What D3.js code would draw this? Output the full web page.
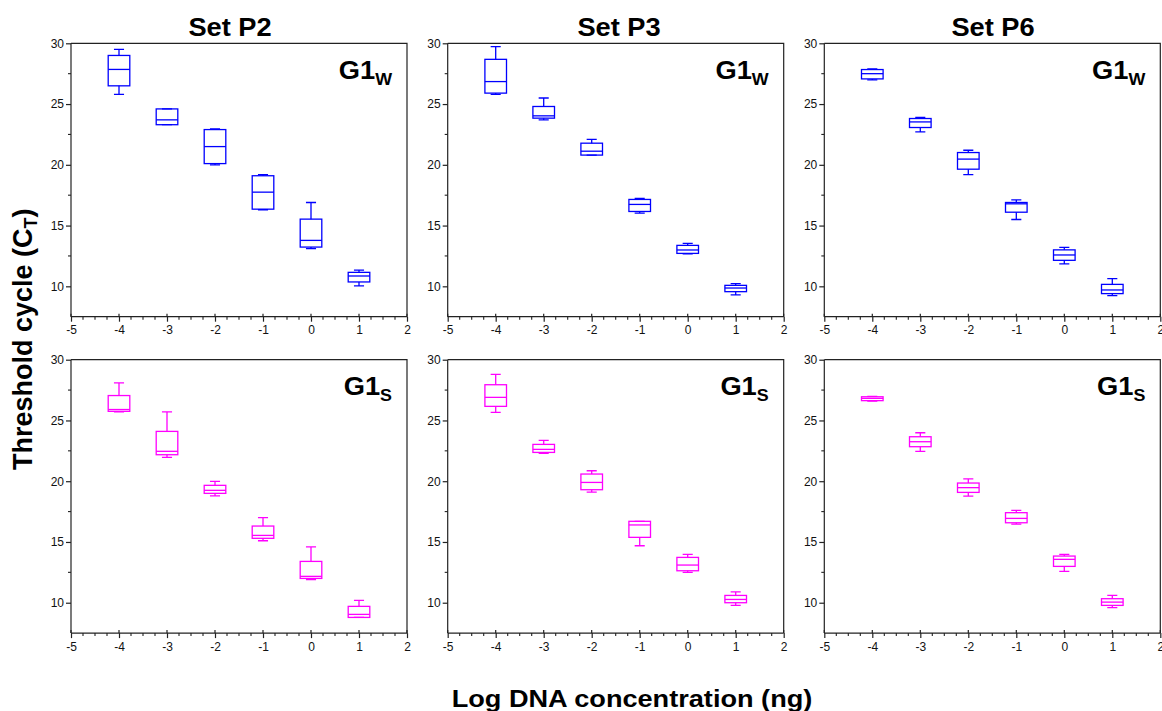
<!DOCTYPE html>
<html>
<head>
<meta charset="utf-8">
<script src="https://cdn.jsdelivr.net/npm/d3@7/dist/d3.min.js"></script>
<style>
  body { margin: 0; background: #fff; }
  svg { display: block; font-family: "Liberation Sans", Arial, sans-serif; }
</style>
</head>
<body>
<svg id="chart" width="1162" height="711"></svg>
<script>
// Log10 DNA amount (ng) for each dilution step
const doses = [-4, -3, -2, -1, 0, 1];

// Ct summaries per dilution: [min, Q1, median, Q3, max]
const p2W = [[25.8, 26.5, 27.85, 29.0, 29.5], [23.3, 23.3, 23.7, 24.6, 24.6], [20.0, 20.1, 21.5, 22.9, 22.95],
             [16.3, 16.35, 17.75, 19.1, 19.2], [13.1, 13.23, 13.78, 15.53, 16.9], [10.03, 10.36, 10.85, 11.15, 11.34]];
const p3W = [[25.8, 25.9, 26.85, 28.68, 29.73], [23.7, 23.84, 24.03, 24.8, 25.5], [20.8, 20.8, 21.12, 21.78, 22.1],
             [16.03, 16.16, 16.74, 17.15, 17.23], [12.68, 12.71, 12.99, 13.37, 13.53], [9.29, 9.56, 9.86, 10.08, 10.22]];
const p6W = [[26.99, 27.07, 27.5, 27.84, 27.9], [22.71, 23.07, 23.53, 23.81, 23.9], [19.2, 19.64, 20.47, 21.01, 21.2],
             [15.5, 16.1, 16.79, 16.9, 17.12], [11.84, 12.14, 12.58, 13.0, 13.2], [9.23, 9.4, 9.7, 10.16, 10.63]];
const p2S = [[25.7, 25.75, 25.9, 27.05, 28.1], [21.96, 22.18, 22.46, 24.1, 25.7], [18.8, 19.0, 19.25, 19.66, 19.99],
             [15.1, 15.3, 15.54, 16.31, 17.0], [11.9, 12.0, 12.17, 13.4, 14.6], [8.79, 8.79, 9.04, 9.7, 10.19]];
const p3S = [[25.67, 26.16, 26.9, 27.94, 28.8], [22.3, 22.37, 22.62, 23.03, 23.36], [19.1, 19.3, 19.9, 20.59, 20.86],
             [14.69, 15.38, 16.4, 16.7, 16.7], [12.5, 12.63, 13.1, 13.73, 13.98], [9.78, 10.0, 10.27, 10.6, 10.9]];
const p6S = [[26.6, 26.63, 26.82, 26.95, 26.98], [22.46, 22.84, 23.25, 23.66, 23.99], [18.78, 19.08, 19.47, 19.85, 20.2],
             [16.47, 16.58, 16.94, 17.41, 17.6], [12.58, 12.99, 13.57, 13.84, 13.98], [9.59, 9.78, 10.05, 10.33, 10.6]];

const setTitles = ["Set P2", "Set P3", "Set P6"];
const targetNames = ["W", "S"];
const xTicks = [-5, -4, -3, -2, -1, 0, 1, 2];
const yTicks = [10, 15, 20, 25, 30];

const panels = [
  { col: 0, row: 0, data: p2W }, { col: 1, row: 0, data: p3W }, { col: 2, row: 0, data: p6W },
  { col: 0, row: 1, data: p2S }, { col: 1, row: 1, data: p3S }, { col: 2, row: 1, data: p6S }
];

const svg = d3.select("#chart");
const colLeft = [71, 447.7, 824.3];
const panelW = 336;
const rowTop = [43.3, 359.7];
const panelH = 273.4;
const colors = ["#0000ff", "#ff00ff"];
const axisColor = "#222";
const titleX = [230, 619, 993];

const x = d3.scaleLinear().domain([-5, 2]);
const y = d3.scaleLinear().domain([7.5, 30]);

panels.forEach(p => {
  const left = colLeft[p.col], top = rowTop[p.row];
  const xs = x.copy().range([left, left + panelW]);
  const ys = y.copy().range([top + panelH, top]);
  const g = svg.append("g");
  const color = colors[p.row];
  const bottom = top + panelH;

  // frame: top and right edges
  g.append("path")
    .attr("d", `M${left},${top}H${left + panelW}V${bottom}`)
    .attr("fill", "none").attr("stroke", axisColor).attr("stroke-width", 1.2);

  // x axis
  const xAxis = g.append("g").attr("transform", `translate(0,${bottom})`)
    .call(d3.axisBottom(xs).tickValues(xTicks).tickSize(5).tickPadding(4).tickFormat(d3.format("d")));
  xAxis.selectAll("line, path").attr("stroke", axisColor).attr("stroke-width", 1.2);
  xAxis.select(".domain").attr("d", `M${left},0H${left + panelW}`);
  xAxis.selectAll("text").attr("font-size", 12).attr("fill", "#111")
    .attr("font-family", "'Liberation Sans', Arial, sans-serif").text(d => d < 0 ? "-" + Math.abs(d) : d);
  // upper part of the major ticks
  g.append("g").selectAll("line").data(xTicks).join("line")
    .attr("x1", d => xs(d)).attr("x2", d => xs(d))
    .attr("y1", bottom).attr("y2", bottom - 3)
    .attr("stroke", axisColor).attr("stroke-width", 1.2);
  // minor x ticks every 0.25
  const xMinor = d3.range(-5, 2.001, 0.25).filter(v => Math.abs(v - Math.round(v)) > 1e-6);
  g.append("g").selectAll("line").data(xMinor).join("line")
    .attr("x1", d => xs(d)).attr("x2", d => xs(d))
    .attr("y1", bottom).attr("y2", bottom + 3)
    .attr("stroke", axisColor).attr("stroke-width", 1.1);

  // y axis
  const yAxis = g.append("g").attr("transform", `translate(${left},0)`)
    .call(d3.axisLeft(ys).tickValues(yTicks).tickSize(5).tickPadding(2).tickFormat(d3.format("d")));
  yAxis.selectAll("line, path").attr("stroke", axisColor).attr("stroke-width", 1.2);
  yAxis.select(".domain").attr("d", `M0,${top}V${bottom}`);
  yAxis.selectAll("text").attr("font-size", 12).attr("fill", "#111")
    .attr("font-family", "'Liberation Sans', Arial, sans-serif");
  const yMinor = [12.5, 17.5, 22.5, 27.5];
  g.append("g").selectAll("line").data(yMinor).join("line")
    .attr("x1", left).attr("x2", left - 3)
    .attr("y1", d => ys(d)).attr("y2", d => ys(d))
    .attr("stroke", axisColor).attr("stroke-width", 1.1);

  // box plots
  const boxHalf = xs(0.225) - xs(0);
  const capHalf = xs(0.105) - xs(0);
  const boxes = g.append("g").selectAll("g").data(p.data.map((s, i) => ({ dose: doses[i], s })))
    .join("g").attr("stroke", color).attr("stroke-width", 1.3).attr("fill", "none");
  boxes.append("rect")
    .attr("x", d => xs(d.dose) - boxHalf).attr("width", 2 * boxHalf)
    .attr("y", d => ys(d.s[3])).attr("height", d => ys(d.s[1]) - ys(d.s[3]));
  boxes.append("line")
    .attr("x1", d => xs(d.dose) - boxHalf).attr("x2", d => xs(d.dose) + boxHalf)
    .attr("y1", d => ys(d.s[2])).attr("y2", d => ys(d.s[2]));
  // whiskers
  boxes.append("path")
    .attr("d", d => {
      const cx = xs(d.dose);
      return `M${cx},${ys(d.s[3])}V${ys(d.s[4])}M${cx - capHalf},${ys(d.s[4])}H${cx + capHalf}` +
             `M${cx},${ys(d.s[1])}V${ys(d.s[0])}M${cx - capHalf},${ys(d.s[0])}H${cx + capHalf}`;
    });

  // target label, e.g. G1 with subscript
  const lab = g.append("text")
    .attr("transform", `translate(${left + panelW - 15},${top + 35.5}) scale(1.05,1)`)
    .attr("text-anchor", "end").attr("font-weight", "bold").attr("font-size", 26).attr("fill", "#000");
  lab.append("tspan").text("G1");
  lab.append("tspan").attr("font-size", 17).attr("dy", 6).text(targetNames[p.row]);

  if (p.row === 0) {
    svg.append("text").attr("transform", `translate(${titleX[p.col]},36) scale(1.09,1)`)
      .attr("text-anchor", "middle").attr("font-weight", "bold").attr("font-size", 25)
      .text(setTitles[p.col]);
  }
});

// shared axis titles
const yt = svg.append("text")
  .attr("transform", "translate(32,470) rotate(-90)")
  .attr("text-anchor", "start").attr("font-weight", "bold").attr("font-size", 27);
yt.append("tspan").text("Threshold cycle (C");
yt.append("tspan").attr("font-size", 18).attr("dy", 5).text("T");
yt.append("tspan").attr("dy", -5).text(")");

svg.append("text").attr("transform", "translate(632,707) scale(1.18,1)")
  .attr("text-anchor", "middle").attr("font-weight", "bold").attr("font-size", 23)
  .text("Log DNA concentration (ng)");
</script>
</body>
</html>
